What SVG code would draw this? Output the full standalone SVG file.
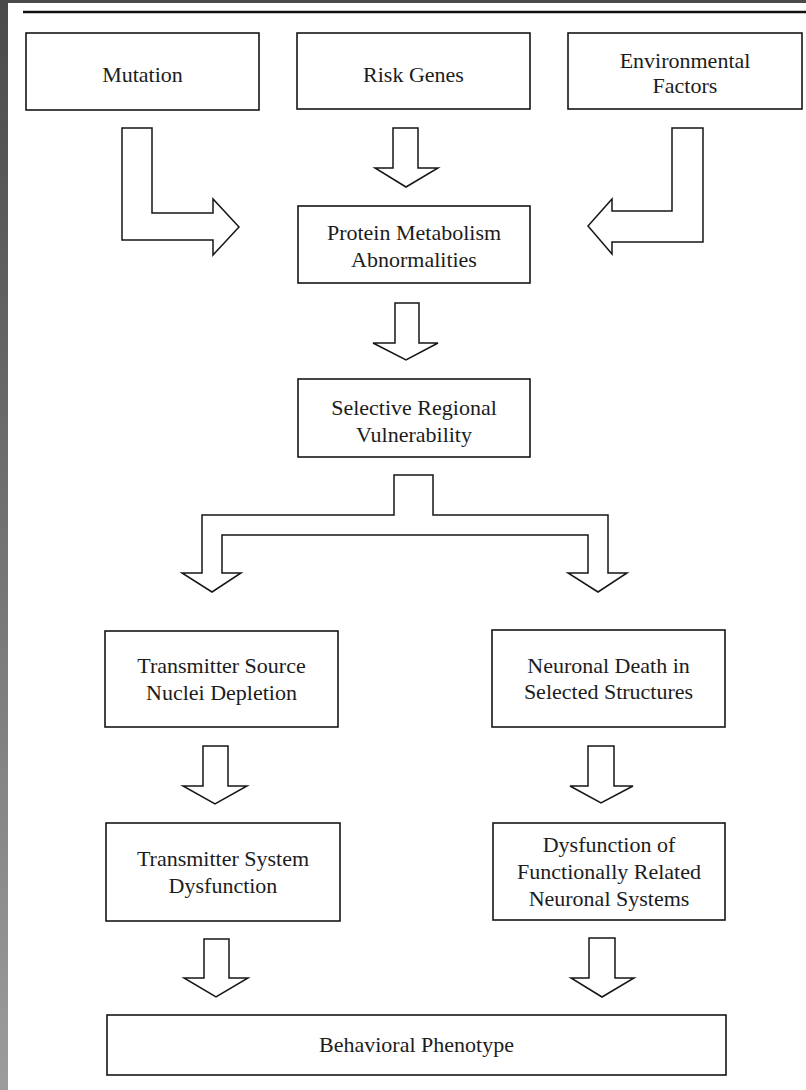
<svg xmlns="http://www.w3.org/2000/svg" width="806" height="1090" viewBox="0 0 806 1090">
<defs>
<linearGradient id="side" x1="0" y1="0" x2="0" y2="1">
<stop offset="0" stop-color="#4a4a4a"/>
<stop offset="1" stop-color="#9c9c9c"/>
</linearGradient>
<style>
.box{fill:#fff;stroke:#161616;stroke-width:1.6}
.arr{fill:#fff;stroke:#161616;stroke-width:1.5;stroke-linejoin:miter}
.t{font-family:"Liberation Serif","Times New Roman",serif;font-size:22px;fill:#1c1c1c;text-anchor:middle}
</style>
</defs>
<rect x="0" y="0" width="806" height="1090" fill="#fff"/>
<rect x="0" y="0" width="806" height="3" fill="#4a4a4a"/>
<rect x="0" y="0" width="8" height="1090" fill="url(#side)"/>
<line x1="23" y1="12" x2="806" y2="12" stroke="#111" stroke-width="2.5"/>

<g id="connectors">
<path class="arr" d="M122,128 H152 V213 H213 V199 L239,227 L213,255 V240 H122 Z"/>
<path class="arr" d="M393,128 H418 V168 H438 L406,187 L375,168 H393 Z"/>
<path class="arr" d="M672,128 H703 V242 H612 V254 L588,226 L612,199 V211 H672 Z"/>
<path class="arr" d="M395,303 H419 V343 H438 L406,360 L373,343 H395 Z"/>
<path class="arr" d="M394,475 H433 V515 H608 V573 H627 L598,592 L568,573 H588 V535 H222 V573 H241 L212,592 L182,573 H202 V515 H394 Z"/>
<path class="arr" d="M203,746 H228 V786 H247 L215,804 L183,786 H203 Z"/>
<path class="arr" d="M204,939 H229 V978 H248 L216,997 L184,978 H204 Z"/>
<path class="arr" d="M588,746 H614 V786 H633 L601,803 L570,786 H588 Z"/>
<path class="arr" d="M589,938 H615 V978 H634 L602,997 L571,978 H589 Z"/>
</g>

<g id="mutation">
<rect class="box" x="26" y="33" width="233" height="77"/>
<text class="t" x="142.5" y="82">Mutation</text>
</g>
<g id="risk-genes">
<rect class="box" x="297" y="33" width="233" height="76"/>
<text class="t" x="413.5" y="82">Risk Genes</text>
</g>
<g id="environmental-factors">
<rect class="box" x="568" y="33" width="234" height="76"/>
<text class="t" x="685" y="68">Environmental</text>
<text class="t" x="685" y="93">Factors</text>
</g>
<g id="protein-metabolism">
<rect class="box" x="298" y="206" width="232" height="77"/>
<text class="t" x="414" y="240">Protein Metabolism</text>
<text class="t" x="414" y="267">Abnormalities</text>
</g>
<g id="selective-regional">
<rect class="box" x="298" y="379" width="232" height="78"/>
<text class="t" x="414" y="415">Selective Regional</text>
<text class="t" x="414" y="442">Vulnerability</text>
</g>
<g id="transmitter-source">
<rect class="box" x="105" y="631" width="233" height="96"/>
<text class="t" x="221.5" y="673">Transmitter Source</text>
<text class="t" x="221.5" y="700">Nuclei Depletion</text>
</g>
<g id="neuronal-death">
<rect class="box" x="492" y="630" width="233" height="97"/>
<text class="t" x="608.5" y="673">Neuronal Death in</text>
<text class="t" x="608.5" y="699">Selected Structures</text>
</g>
<g id="transmitter-system">
<rect class="box" x="106" y="823" width="234" height="98"/>
<text class="t" x="223" y="866">Transmitter System</text>
<text class="t" x="223" y="893">Dysfunction</text>
</g>
<g id="dysfunction-neuronal">
<rect class="box" x="493" y="823" width="232" height="97"/>
<text class="t" x="609" y="852">Dysfunction of</text>
<text class="t" x="609" y="879">Functionally Related</text>
<text class="t" x="609" y="906">Neuronal Systems</text>
</g>
<g id="behavioral-phenotype">
<rect class="box" x="107" y="1015" width="619" height="60"/>
<text class="t" x="416.5" y="1052">Behavioral Phenotype</text>
</g>
</svg>
